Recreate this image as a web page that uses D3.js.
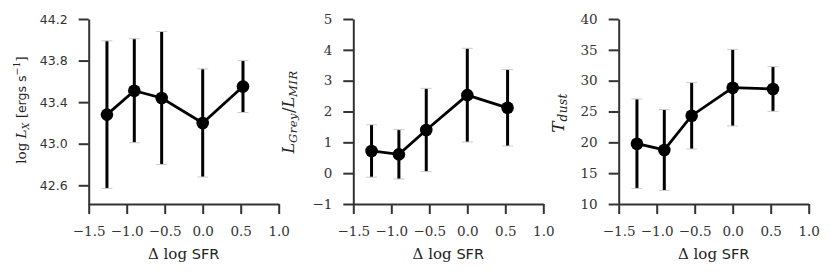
<!DOCTYPE html>
<meta charset="utf-8">
<script src="https://d3js.org/d3.v7.min.js"></script>
<style>
  body { margin: 0; background: #fff; }
</style>
<div id="chart"></div>
<script>

// data
var dSFR = [-1.26, -0.90, -0.54, 0.0, 0.53];
var logLX = [43.28, 43.51, 43.44, 43.20, 43.55];
var logLXErr = [0.71, 0.50, 0.64, 0.52, 0.25];
var greyRatio = [0.72, 0.61, 1.40, 2.53, 2.12];
var greyRatioErr = [0.85, 0.80, 1.35, 1.52, 1.24];
var tDust = [19.78, 18.76, 24.32, 28.86, 28.65];
var tDustErr = [7.25, 6.57, 5.40, 6.21, 3.62];

var xTicks = [-1.5, -1.0, -0.5, 0.0, 0.5, 1.0];
var lxTicks = [42.6, 43.0, 43.4, 43.8, 44.2];
var ratioTicks = [-1, 0, 1, 2, 3, 4, 5];
var tDustTicks = [10, 15, 20, 25, 30, 35, 40];

var W = 830, H = 276;
var yTop = 19, yBottom = 204, pw = 190;
var serif = "'DejaVu Serif', serif";
var sans = "'DejaVu Sans', sans-serif";

var svg = d3.select("#chart").append("svg")
    .attr("width", W)
    .attr("height", H);

function panel(left, yVals, yErr, yDomain, yTicks, yFmt, yTickFont, labelDx, labelCy, labelFn) {
  var g = svg.append("g");

  var x = d3.scaleLinear().domain([-1.5, 1.0]).range([left, left + pw]);
  var y = d3.scaleLinear().domain(yDomain).range([yBottom, yTop]);

  var xAxis = g.append("g")
      .attr("transform", "translate(0," + yBottom + ")")
      .call(d3.axisBottom(x).tickValues(xTicks).tickFormat(d3.format(".1f"))
        .tickSizeInner(10).tickSizeOuter(0).tickPadding(12));
  var yAxis = g.append("g")
      .attr("transform", "translate(" + left + ",0)")
      .call(d3.axisLeft(y).tickValues(yTicks).tickFormat(yFmt)
        .tickSizeInner(10).tickSizeOuter(0).tickPadding(11));

  [xAxis, yAxis].forEach(function(a) {
    a.select(".domain").attr("stroke", "#333").attr("stroke-width", 2);
    a.selectAll(".tick line").attr("stroke", "#333").attr("stroke-width", 2);
  });
  xAxis.selectAll("text").attr("fill", "#333").style("font", "13.5px " + serif);
  yAxis.selectAll("text").attr("fill", "#333").style("font", yTickFont);

  var pts = dSFR.map(function(d, i) { return {x: d, y: yVals[i], e: yErr[i]}; });

  // error bars
  g.selectAll(".err").data(pts).enter().append("line")
      .attr("x1", function(d) { return x(d.x); })
      .attr("x2", function(d) { return x(d.x); })
      .attr("y1", function(d) { return y(d.y - d.e); })
      .attr("y2", function(d) { return y(d.y + d.e); })
      .attr("stroke", "#000")
      .attr("stroke-width", 3);

  // caps
  [-1, 1].forEach(function(s) {
    g.selectAll(".cap" + s).data(pts).enter().append("line")
        .attr("x1", function(d) { return x(d.x) - 5.5; })
        .attr("x2", function(d) { return x(d.x) + 5.5; })
        .attr("y1", function(d) { return y(d.y + s * d.e); })
        .attr("y2", function(d) { return y(d.y + s * d.e); })
        .attr("stroke", "#ccc")
        .attr("stroke-width", 1);
  });

  g.append("path")
      .datum(pts)
      .attr("fill", "none")
      .attr("stroke", "#000")
      .attr("stroke-width", 2.8)
      .attr("d", d3.line().x(function(d) { return x(d.x); }).y(function(d) { return y(d.y); }));

  g.selectAll(".pt").data(pts).enter().append("circle")
      .attr("cx", function(d) { return x(d.x); })
      .attr("cy", function(d) { return y(d.y); })
      .attr("r", 6.3)
      .attr("fill", "#000");

  // x label
  var xl = g.append("text")
      .attr("x", left + pw / 2)
      .attr("y", 259)
      .attr("text-anchor", "middle")
      .attr("fill", "#222")
      .style("font-size", "15px");
  xl.append("tspan").style("font-family", serif).text("\u0394 log ");
  xl.append("tspan").style("font-family", sans).style("font-size", "14.5px").text("SFR");

  // y label
  var yl = g.append("text")
      .attr("transform", "translate(" + (left - labelDx) + "," + labelCy + ") rotate(-90)")
      .attr("text-anchor", "middle")
      .attr("fill", "#222")
      .style("font-size", "13.5px");
  labelFn(yl);
}

panel(88.7, logLX, logLXErr, [42.42, 44.2], lxTicks, d3.format(".1f"),
  "12.5px " + sans, 63, 110,
  function(t) {
    t.append("tspan").style("font-family", serif).text("log ");
    t.append("tspan").style("font-family", serif).style("font-style", "italic").text("L");
    t.append("tspan").style("font-family", serif).style("font-style", "italic")
      .style("font-size", "9.5px").attr("dy", 3).text("X");
    t.append("tspan").style("font-family", serif).attr("dy", -3).text(" [");
    t.append("tspan").style("font-family", sans).style("font-size", "12.5px").text("ergs s");
    t.append("tspan").style("font-family", serif).style("font-size", "9.5px").attr("dy", -6).text("\u22121");
    t.append("tspan").style("font-family", serif).attr("dy", 6).text("]");
  });

panel(353.3, greyRatio, greyRatioErr, [-1, 5], ratioTicks, d3.format("d"),
  "13.5px " + serif, 59, 112,
  function(t) {
    t.style("font-size", "16px");
    t.append("tspan").style("font-family", serif).style("font-style", "italic").text("L");
    t.append("tspan").style("font-family", serif).style("font-style", "italic")
      .style("font-size", "11.5px").style("letter-spacing", "0.5px").attr("dy", 3).text("Grey");
    t.append("tspan").style("font-family", serif).attr("dy", -3).text("/");
    t.append("tspan").style("font-family", serif).style("font-style", "italic").text("L");
    t.append("tspan").style("font-family", serif).style("font-style", "italic")
      .style("font-size", "11.5px").style("letter-spacing", "0.5px").attr("dy", 3).text("MIR");
  });

panel(618.7, tDust, tDustErr, [10, 40], tDustTicks, d3.format("d"),
  "13.5px " + serif, 55, 113,
  function(t) {
    t.style("font-size", "17px");
    t.append("tspan").style("font-family", serif).style("font-style", "italic").text("T");
    t.append("tspan").style("font-family", serif).style("font-style", "italic")
      .style("font-size", "12px").style("letter-spacing", "0.5px").attr("dy", 3).text("dust");
  });

</script>
